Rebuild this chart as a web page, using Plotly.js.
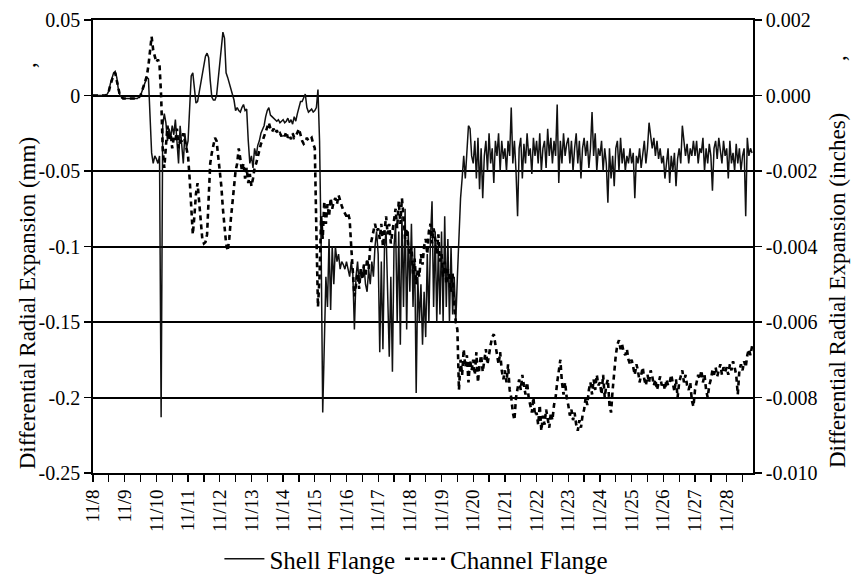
<!DOCTYPE html>
<html>
<head>
<meta charset="utf-8">
<script src="https://cdn.plot.ly/plotly-3.0.1.min.js"></script>
<style>
  html, body { margin: 0; padding: 0; background: #fff; }
  #chart { width: 853px; height: 577px; }
</style>
</head>
<body>
<div id="chart"></div>
<script>
// Day labels (one per day, starting 11/8)
const dayLabels = ['11/8','11/9','11/10','11/11','11/12','11/13','11/14','11/15','11/16','11/17','11/18',
  '11/19','11/20','11/21','11/22','11/23','11/24','11/25','11/26','11/27','11/28'];

// Sampling: readings every 0.05 day starting at 11/8 00:00
const sampleStartDay = 0;
const sampleStepDay = 0.05;

// Shell Flange differential radial expansion (mm), 20 readings per day
const shellFlange = [
  0,0,0,0,0,0,0,0,0,0.001,0.003,0.008,0.012,0.015,0.016,0.012,0.004,0,-0.001,-0.002,
  -0.002,-0.002,-0.002,-0.002,-0.002,-0.002,-0.002,-0.002,-0.002,-0.001,0,0.003,0.006,0.009,0.012,0.011,-0.02,-0.038,-0.045,-0.04,
  -0.042,-0.045,-0.04,-0.213,-0.02,-0.012,-0.018,-0.03,-0.022,-0.028,-0.02,-0.026,-0.016,-0.03,-0.045,-0.02,-0.035,-0.045,-0.025,-0.035,
  -0.03,-0.005,0.013,0.015,0.005,-0.005,-0.004,0.002,0.01,0.016,0.022,0.026,0.028,0.025,0.01,-0.001,-0.003,-0.003,0,0.01,
  0.02,0.032,0.042,0.038,0.015,0.012,0.008,0.004,0.001,-0.003,-0.01,-0.008,-0.01,-0.011,-0.008,-0.006,-0.01,-0.009,-0.03,-0.045,
  -0.04,-0.048,-0.035,-0.04,-0.033,-0.03,-0.025,-0.022,-0.02,-0.014,-0.01,-0.008,-0.013,-0.014,-0.015,-0.016,-0.017,-0.016,-0.018,-0.017,
  -0.016,-0.018,-0.017,-0.015,-0.018,-0.016,-0.019,-0.014,-0.017,-0.012,-0.008,-0.004,-0.004,-0.001,0.001,-0.008,-0.011,-0.01,-0.009,-0.011,
  -0.01,-0.008,0.004,-0.03,-0.1,-0.21,-0.155,-0.12,-0.14,-0.095,-0.142,-0.1,-0.125,-0.1,-0.11,-0.105,-0.115,-0.11,-0.112,-0.115,
  -0.11,-0.115,-0.12,-0.11,-0.118,-0.155,-0.12,-0.11,-0.125,-0.115,-0.12,-0.112,-0.125,-0.13,-0.115,-0.125,-0.11,-0.12,-0.1,-0.09,
  -0.105,-0.17,-0.11,-0.168,-0.1,-0.09,-0.14,-0.173,-0.12,-0.183,-0.1,-0.085,-0.15,-0.09,-0.165,-0.08,-0.14,-0.075,-0.155,-0.09,
  -0.13,-0.085,-0.14,-0.1,-0.197,-0.12,-0.15,-0.125,-0.165,-0.13,-0.16,-0.105,-0.15,-0.095,-0.07,-0.14,-0.09,-0.15,-0.1,-0.145,
  -0.09,-0.15,-0.08,-0.14,-0.095,-0.15,-0.1,-0.145,-0.12,-0.15,-0.12,-0.09,-0.068,-0.055,-0.04,-0.055,-0.035,-0.02,-0.022,-0.04,
  -0.045,-0.03,-0.055,-0.028,-0.062,-0.035,-0.068,-0.04,-0.03,-0.05,-0.025,-0.045,-0.035,-0.058,-0.03,-0.04,-0.025,-0.05,-0.03,-0.042,
  -0.035,-0.05,-0.03,-0.04,-0.008,-0.045,-0.03,-0.05,-0.08,-0.035,-0.028,-0.055,-0.032,-0.045,-0.025,-0.04,-0.035,-0.052,-0.028,-0.04,
  -0.03,-0.045,-0.025,-0.05,-0.035,-0.03,-0.048,-0.022,-0.04,-0.028,-0.045,-0.03,-0.04,-0.006,-0.058,-0.03,-0.045,-0.025,-0.04,-0.032,
  -0.028,-0.045,-0.03,-0.05,-0.035,-0.025,-0.045,-0.03,-0.055,-0.035,-0.028,-0.04,-0.03,-0.048,-0.035,-0.011,-0.04,-0.025,-0.05,-0.035,
  -0.04,-0.03,-0.05,-0.035,-0.045,-0.071,-0.035,-0.055,-0.04,-0.06,-0.035,-0.03,-0.05,-0.028,-0.045,-0.035,-0.05,-0.04,-0.045,-0.035,
  -0.045,-0.038,-0.068,-0.04,-0.045,-0.035,-0.048,-0.04,-0.03,-0.045,-0.035,-0.018,-0.025,-0.035,-0.028,-0.04,-0.03,-0.042,-0.035,-0.045,
  -0.04,-0.055,-0.045,-0.035,-0.058,-0.04,-0.05,-0.038,-0.06,-0.042,-0.035,-0.045,-0.02,-0.03,-0.04,-0.032,-0.045,-0.035,-0.04,-0.03,
  -0.04,-0.03,-0.045,-0.035,-0.038,-0.028,-0.05,-0.035,-0.045,-0.032,-0.04,-0.063,-0.035,-0.03,-0.042,-0.028,-0.035,-0.045,-0.03,-0.04,
  -0.035,-0.055,-0.03,-0.045,-0.038,-0.05,-0.032,-0.045,-0.035,-0.05,-0.04,-0.035,-0.08,-0.028,-0.04,-0.035,-0.038
];

// Channel Flange differential radial expansion (mm), 20 readings per day
const channelFlange = [
  0,0,0,0,0,0,0,0,0,0.001,0.003,0.007,0.011,0.014,0.015,0.01,0.003,0,-0.001,-0.002,
  -0.002,-0.002,-0.002,-0.002,-0.002,-0.002,-0.002,-0.002,-0.002,-0.001,0,0.003,0.006,0.01,0.013,0.02,0.03,0.039,0.03,0.025,
  0.022,0.024,0.02,0,-0.035,-0.048,-0.03,-0.02,-0.03,-0.025,-0.035,-0.028,-0.03,-0.022,-0.035,-0.03,-0.03,-0.025,-0.03,-0.035,
  -0.04,-0.055,-0.075,-0.092,-0.08,-0.065,-0.058,-0.07,-0.085,-0.095,-0.098,-0.097,-0.092,-0.07,-0.045,-0.038,-0.032,-0.028,-0.03,-0.04,
  -0.05,-0.06,-0.075,-0.088,-0.098,-0.103,-0.095,-0.082,-0.07,-0.058,-0.05,-0.045,-0.035,-0.042,-0.05,-0.045,-0.055,-0.048,-0.058,-0.052,
  -0.06,-0.055,-0.048,-0.045,-0.04,-0.036,-0.032,-0.03,-0.027,-0.024,-0.02,-0.018,-0.022,-0.024,-0.022,-0.025,-0.023,-0.026,-0.025,-0.027,
  -0.025,-0.027,-0.024,-0.028,-0.026,-0.029,-0.025,-0.028,-0.027,-0.024,-0.022,-0.026,-0.03,-0.032,-0.031,-0.028,-0.03,-0.029,-0.028,-0.032,
  -0.035,-0.09,-0.14,-0.12,-0.08,-0.095,-0.07,-0.085,-0.072,-0.08,-0.068,-0.075,-0.07,-0.068,-0.072,-0.066,-0.07,-0.073,-0.076,-0.078,
  -0.08,-0.078,-0.082,-0.1,-0.12,-0.133,-0.125,-0.118,-0.128,-0.115,-0.122,-0.112,-0.12,-0.108,-0.115,-0.1,-0.095,-0.09,-0.085,-0.09,
  -0.088,-0.095,-0.085,-0.1,-0.09,-0.08,-0.092,-0.085,-0.098,-0.09,-0.08,-0.075,-0.088,-0.07,-0.085,-0.068,-0.08,-0.095,-0.088,-0.1,
  -0.105,-0.1,-0.118,-0.108,-0.125,-0.115,-0.12,-0.105,-0.112,-0.1,-0.095,-0.105,-0.09,-0.085,-0.098,-0.088,-0.095,-0.105,-0.092,-0.11,
  -0.105,-0.12,-0.11,-0.125,-0.115,-0.12,-0.13,-0.118,-0.14,-0.15,-0.155,-0.195,-0.175,-0.185,-0.168,-0.18,-0.172,-0.19,-0.175,-0.182,
  -0.175,-0.185,-0.17,-0.19,-0.178,-0.172,-0.183,-0.175,-0.168,-0.178,-0.17,-0.165,-0.16,-0.158,-0.165,-0.172,-0.178,-0.17,-0.182,-0.188,
  -0.182,-0.19,-0.178,-0.195,-0.2,-0.21,-0.215,-0.2,-0.195,-0.188,-0.195,-0.185,-0.192,-0.198,-0.19,-0.2,-0.205,-0.21,-0.2,-0.212,
  -0.21,-0.218,-0.205,-0.222,-0.212,-0.218,-0.208,-0.215,-0.22,-0.21,-0.215,-0.205,-0.2,-0.19,-0.182,-0.175,-0.19,-0.198,-0.19,-0.2,
  -0.205,-0.212,-0.208,-0.215,-0.21,-0.218,-0.222,-0.215,-0.22,-0.212,-0.208,-0.2,-0.205,-0.195,-0.19,-0.198,-0.188,-0.195,-0.185,-0.192,
  -0.19,-0.198,-0.185,-0.2,-0.192,-0.188,-0.205,-0.21,-0.195,-0.18,-0.172,-0.165,-0.162,-0.168,-0.165,-0.17,-0.172,-0.168,-0.175,-0.178,
  -0.175,-0.18,-0.185,-0.178,-0.182,-0.19,-0.185,-0.18,-0.188,-0.192,-0.185,-0.19,-0.182,-0.186,-0.192,-0.188,-0.195,-0.19,-0.186,-0.192,
  -0.19,-0.195,-0.188,-0.192,-0.19,-0.185,-0.192,-0.196,-0.188,-0.2,-0.19,-0.185,-0.182,-0.19,-0.185,-0.192,-0.195,-0.19,-0.202,-0.206,
  -0.195,-0.19,-0.185,-0.188,-0.182,-0.19,-0.185,-0.195,-0.2,-0.192,-0.188,-0.182,-0.185,-0.18,-0.186,-0.182,-0.178,-0.185,-0.18,-0.183,
  -0.18,-0.185,-0.178,-0.182,-0.176,-0.18,-0.185,-0.198,-0.182,-0.178,-0.182,-0.176,-0.18,-0.172,-0.168,-0.172,-0.166
];

// Axis ticks
const mmTickVals = [0.05, 0, -0.05, -0.1, -0.15, -0.2, -0.25];
const mmTickText = ['0.05', '0', '-0.05', '-0.1', '-0.15', '-0.2', '-0.25'];
const inTickVals = [0.002, 0, -0.002, -0.004, -0.006, -0.008, -0.010];
const inTickText = ['0.002', '0.000', '-0.002', '-0.004', '-0.006', '-0.008', '-0.010'];

const seriesNames = ['Shell Flange', 'Channel Flange'];
const leftTitle = 'Differential Radial Expansion (mm)';
const rightTitle = 'Differential Radial Expansion (inches)';

// x ticks: a mark every half day, label on whole days
const xTickVals = [];
const xTickText = [];
for (let i = 0; i < dayLabels.length * 2; i++) {
  xTickVals.push(i * 0.5);
  xTickText.push(i % 2 === 0 ? dayLabels[i / 2] : '');
}

const FONT = 'Liberation Serif';
const NB = '\u00A0';

const traces = [
  {
    type: 'scatter', mode: 'lines', name: seriesNames[0],
    x0: sampleStartDay, dx: sampleStepDay, y: shellFlange,
    line: { color: '#111', width: 1.5 },
    xaxis: 'x', yaxis: 'y'
  },
  {
    type: 'scatter', mode: 'lines', name: seriesNames[1],
    x0: sampleStartDay, dx: sampleStepDay, y: channelFlange,
    line: { color: '#000', width: 2.6, dash: '5px,4px' },
    xaxis: 'x', yaxis: 'y'
  }
];

const layout = {
  width: 853, height: 577,
  margin: { l: 93, r: 100, t: 20, b: 104, pad: 0, autoexpand: false },
  paper_bgcolor: '#fff', plot_bgcolor: '#fff',
  font: { family: FONT, color: '#000', size: 20 },
  showlegend: true,
  legend: {
    orientation: 'h', x: 0.49, xanchor: 'center', y: -0.19, yanchor: 'middle',
    font: { family: FONT, size: 25, color: '#000' },
    itemwidth: 40, tracegroupgap: 0, bgcolor: 'rgba(0,0,0,0)'
  },
  xaxis: {
    range: [0, 20.83], tickmode: 'array', tickvals: xTickVals, ticktext: xTickText,
    tickangle: -90, ticks: 'outside', ticklen: 7, tickwidth: 1.3, tickcolor: '#000',
    tickfont: { family: FONT, size: 19, color: '#000' },
    showline: true, linecolor: '#000', linewidth: 1.8, mirror: true,
    showgrid: false, zeroline: false, automargin: false
  },
  yaxis: {
    range: [-0.25, 0.05], tickmode: 'array', tickvals: mmTickVals, ticktext: mmTickText,
    ticks: 'outside', ticklen: 7, tickwidth: 1.3, tickcolor: '#000',
    tickfont: { family: FONT, size: 20, color: '#000' },
    showline: true, linecolor: '#000', linewidth: 1.8,
    showgrid: true, gridcolor: '#000', gridwidth: 2, zeroline: false, automargin: false
  },
  yaxis2: {
    overlaying: 'y', side: 'right', anchor: 'x',
    range: [-0.010, 0.002], tickmode: 'array', tickvals: inTickVals, ticktext: inTickText,
    ticks: 'outside', ticklen: 7, tickwidth: 1.3, tickcolor: '#000',
    tickfont: { family: FONT, size: 20, color: '#000' },
    showline: true, linecolor: '#000', linewidth: 1.8,
    showgrid: false, zeroline: false, automargin: false
  },
  annotations: [
    {
      xref: 'paper', yref: 'paper', x: -0.098, y: 0.457, xanchor: 'center', yanchor: 'middle',
      textangle: -90, showarrow: false,
      text: leftTitle + NB.repeat(12) + ',',
      font: { family: FONT, size: 23, color: '#000' }
    },
    {
      xref: 'paper', yref: 'paper', x: 1.129, y: 0.466, xanchor: 'center', yanchor: 'middle',
      textangle: -90, showarrow: false,
      text: rightTitle + NB.repeat(9) + ',',
      font: { family: FONT, size: 23, color: '#000' }
    }
  ]
};

// empty trace to activate the right-hand axis (no visible marks)
traces.push({
  type: 'scatter', mode: 'lines', x: [], y: [], yaxis: 'y2', xaxis: 'x',
  showlegend: false, hoverinfo: 'skip'
});

Plotly.newPlot('chart', traces, layout, { staticPlot: true, displayModeBar: false });
</script>
</body>
</html>
